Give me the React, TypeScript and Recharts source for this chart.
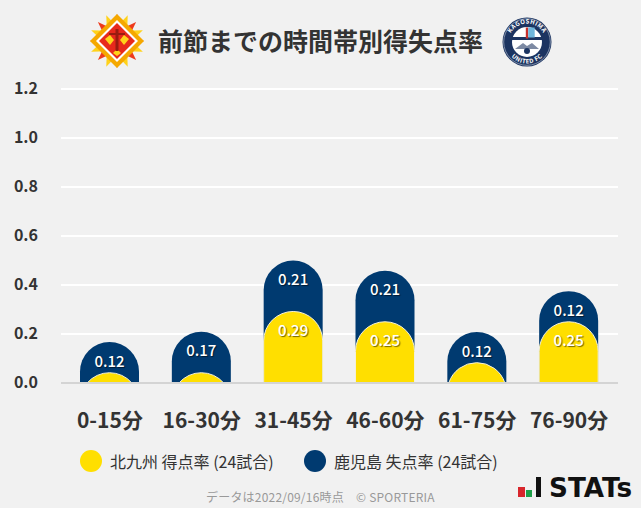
import React from 'react';
import { BarChart, Bar, XAxis, YAxis, CartesianGrid, LabelList, ReferenceLine } from 'recharts';

const FONT = '"Noto Sans CJK JP", "Noto Sans", sans-serif';

const periods = ['0-15分', '16-30分', '31-45分', '46-60分', '61-75分', '76-90分'];
const scoredRates = [0.042, 0.042, 0.292, 0.25, 0.083, 0.25];
const concededRates = [0.125, 0.167, 0.208, 0.208, 0.125, 0.125];
const scoredLabels = ['', '', '0.29', '0.25', '', '0.25'];
const concededLabels = ['0.12', '0.17', '0.21', '0.21', '0.12', '0.12'];
const yTicks = [0, 0.2, 0.4, 0.6, 0.8, 1.0, 1.2];
const scoredName = '北九州 得点率 (24試合)';
const concededName = '鹿児島 失点率 (24試合)';
const YELLOW = '#ffdf00';
const NAVY = '#003a70';

// navy sits behind yellow, so it runs from the baseline up to the stacked total
const chartData = periods.map((name, i) => ({
  name,
  scored: scoredRates[i],
  conceded: concededRates[i],
  total: scoredRates[i] + concededRates[i],
}));

// true round cap, cut off by the baseline when the bar is shorter than the radius
const RoundTop = ({ x, y, width, height, fill, stroke }: any) => {
  const r = width / 2;
  const cx = x + r;
  const base = y + height;
  const d =
    height >= r
      ? `M${x},${base} L${x},${y + r} A${r},${r} 0 0 1 ${x + width},${y + r} L${x + width},${base} Z`
      : (() => {
          const half = Math.sqrt(r * r - (r - height) * (r - height));
          return `M${cx - half},${base} A${r},${r} 0 0 1 ${cx + half},${base} Z`;
        })();
  return <path d={d} fill={fill} stroke={stroke} strokeWidth={stroke ? 1 : 0} />;
};

const RateLabel = ({ x, y, width, labels, index }: any) => {
  if (!labels[index]) return null;
  return (
    <text
      x={x + width / 2}
      y={y + 18}
      textAnchor="middle"
      dominantBaseline="central"
      fill="#fff"
      fontFamily={FONT}
      fontWeight={500}
      fontSize={15}
      style={{ textShadow: '1px 1px 1px rgba(0,0,0,0.55)' }}
    >
      {labels[index]}
    </text>
  );
};

const spikeAngles = [0, 45, 90, 135, 180, 225, 270, 315];

const HomeEmblem = () => (
  <svg width={60} height={60} viewBox="-30 -30 60 60" style={{ position: 'absolute', left: 87, top: 11 }}>
    {spikeAngles.map((a) => (
      <polygon key={`y${a}`} points="0,-28 6,-12 -6,-12" fill="#ffd21a" transform={`rotate(${a + 22.5})`} />
    ))}
    {spikeAngles.map((a) => (
      <polygon key={`r${a}`} points="0,-27 6,-10 -6,-10" fill="#ee3a1c" transform={`rotate(${a})`} />
    ))}
    <polygon points="0,-27 27,0 0,27 -27,0" fill="#f5a800" />
    <polygon points="0,-21 21,0 0,21 -21,0" fill="#fff" />
    <polygon points="0,-18 18,0 0,18 -18,0" fill="#e8291c" />
    <polygon points="-12,-2 -7,-6 -3,-1 -7,4" fill="#ffd21a" />
    <polygon points="12,-2 7,-6 3,-1 7,4" fill="#ffd21a" />
    <polygon points="0,8 4,12 0,15 -4,12" fill="#ffd21a" />
    <rect x={-1.5} y={-12} width={3} height={22} fill="#9a1c10" />
    <rect x={-8} y={-8} width={16} height={2} fill="#9a1c10" />
  </svg>
);

const AwayEmblem = () => (
  <svg width={50} height={50} viewBox="-25 -25 50 50" style={{ position: 'absolute', left: 502, top: 17 }}>
    <defs>
      <path id="arcTop" d="M-18.5,0 A18.5,18.5 0 0 1 18.5,0" />
      <path id="arcBottom" d="M-21.5,0 A21.5,21.5 0 0 0 21.5,0" />
    </defs>
    <circle r={24.5} fill="#1c3461" />
    <circle r={23.3} fill="none" stroke="#dfe4ec" strokeWidth={0.5} />
    <circle r={15} fill="#fff" />
    <rect x={-15} y={-5} width={30} height={3} fill="#1c3461" />
    <rect x={-1.2} y={-14.5} width={2.4} height={11} fill="#c8302c" />
    <rect x={1.2} y={-14.5} width={6.5} height={10} fill="#6fb7dc" />
    <polygon points="-12,7 -4,1 0,4 5,1 12,7" fill="#7d8aa3" />
    <circle cy={9} r={3} fill="#1c3461" />
    <text fill="#fff" fontFamily={FONT} fontWeight={700} fontSize={6} letterSpacing={0.4}>
      <textPath href="#arcTop" startOffset="50%" textAnchor="middle">KAGOSHIMA</textPath>
    </text>
    <text fill="#fff" fontFamily={FONT} fontWeight={700} fontSize={6} letterSpacing={0.4}>
      <textPath href="#arcBottom" startOffset="50%" textAnchor="middle">UNITED FC</textPath>
    </text>
  </svg>
);

const StatsLogo = () => (
  <svg width={124} height={28} style={{ position: 'absolute', left: 517, top: 474 }}>
    <rect x={1} y={13} width={7} height={10} fill="#d8262c" />
    <rect x={9} y={16} width={6} height={7} fill="#1fa04a" />
    <rect x={19} y={3} width={5} height={20} fill="#111" />
    <text x={32} y={23} fontFamily='"DejaVu Sans", sans-serif' fontWeight={700} fontSize={26} fill="#111" textLength={83} lengthAdjust="spacingAndGlyphs">
      STATs
    </text>
  </svg>
);

const LegendItem = ({ color, name, left }: any) => (
  <div style={{ position: 'absolute', left, top: 450, height: 22, whiteSpace: 'nowrap' }}>
    <span style={{ position: 'absolute', left: 0, top: 0, width: 22, height: 22, borderRadius: 11, background: color }} />
    <span style={{ position: 'absolute', left: 30, top: 0, fontFamily: FONT, fontSize: 16, lineHeight: '22px', color: '#333' }}>{name}</span>
  </div>
);

const App = () => (
  <div style={{ position: 'absolute', left: 0, top: 0, width: 641, height: 508, background: '#f1f1f1', overflow: 'hidden' }}>
    <HomeEmblem />
    <div style={{ position: 'absolute', left: 158, top: 21, fontFamily: FONT, fontWeight: 700, fontSize: 25, lineHeight: '38px', color: '#333', whiteSpace: 'nowrap' }}>
      前節までの時間帯別得失点率
    </div>
    <AwayEmblem />
    <BarChart
      width={641}
      height={440}
      data={chartData}
      margin={{ top: 89, right: 23, bottom: 0, left: 0 }}
      barSize={59}
      barGap={-59}
      style={{ position: 'absolute', left: 0, top: 0 }}
    >
      <CartesianGrid vertical={false} stroke="#fff" strokeWidth={2} />
      <XAxis
        dataKey="name"
        axisLine={false}
        tickLine={false}
        padding={{ left: 3, right: 3 }}
        height={57}
        tickMargin={24}
        tick={{ fontFamily: FONT, fontWeight: 700, fontSize: 21, fill: '#333' }}
      />
      <YAxis
        width={61}
        domain={[0, 1.2]}
        ticks={yTicks}
        interval={0}
        axisLine={false}
        tickLine={false}
        tickMargin={17}
        tickFormatter={(v: number) => v.toFixed(1)}
        tick={{ fontFamily: FONT, fontWeight: 700, fontSize: 16, fill: '#333', dy: -1 }}
      />
      <ReferenceLine y={0} stroke="#d4d4d4" strokeWidth={2} />
      <Bar dataKey="total" fill={NAVY} shape={<RoundTop />} isAnimationActive={false}>
        <LabelList dataKey="total" content={(p: any) => <RateLabel {...p} labels={concededLabels} />} />
      </Bar>
      <Bar dataKey="scored" fill={YELLOW} shape={<RoundTop stroke="#f4f0d8" />} isAnimationActive={false}>
        <LabelList dataKey="scored" content={(p: any) => <RateLabel {...p} labels={scoredLabels} />} />
      </Bar>
    </BarChart>
    <LegendItem color={YELLOW} name={scoredName} left={80} />
    <LegendItem color={NAVY} name={concededName} left={304} />
    <div style={{ position: 'absolute', left: 206, top: 488, fontFamily: FONT, fontSize: 12, letterSpacing: 0.2, lineHeight: '18px', color: '#999', whiteSpace: 'nowrap' }}>
      データは2022/09/16時点　© SPORTERIA
    </div>
    <StatsLogo />
  </div>
);

export default App;
